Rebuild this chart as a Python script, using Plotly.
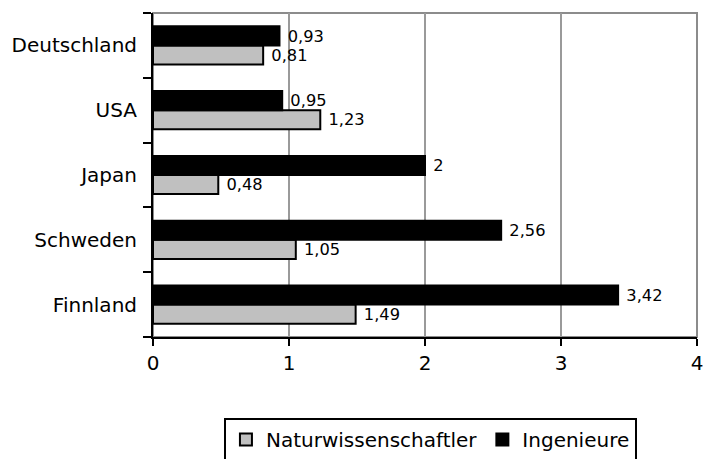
import plotly.graph_objects as go

countries = ["Deutschland", "USA", "Japan", "Schweden", "Finnland"]
naturwiss = [0.81, 1.23, 0.48, 1.05, 1.49]
ingenieure = [0.93, 0.95, 2.00, 2.56, 3.42]
x_ticks = [0, 1, 2, 3, 4]

def fmt(v):
    s = ("%.2f" % v).rstrip("0").rstrip(".")
    return " " + s.replace(".", ",")

FONT = "DejaVu Sans"

fig = go.Figure()
fig.add_trace(go.Bar(
    y=countries, x=naturwiss, orientation="h", name="Naturwissenschaftler",
    marker=dict(color="#c0c0c0", line=dict(color="black", width=2)),
    text=[fmt(v) for v in naturwiss], textposition="outside",
    textfont=dict(family=FONT, size=17, color="black"), cliponaxis=False,
))
fig.add_trace(go.Bar(
    y=countries, x=ingenieure, orientation="h", name="Ingenieure",
    marker=dict(color="black", line=dict(color="black", width=2)),
    text=[fmt(v) for v in ingenieure], textposition="outside",
    textfont=dict(family=FONT, size=17, color="black"), cliponaxis=False,
))

fig.update_layout(
    width=704, height=459,
    margin=dict(l=153, r=7, t=13, b=122, autoexpand=False),
    paper_bgcolor="white", plot_bgcolor="white",
    barmode="group", bargap=0.41, bargroupgap=0.0,
    font=dict(family=FONT, size=20, color="black"),
    showlegend=True,
    legend=dict(
        orientation="h", x=0.51, xanchor="center", y=-0.25, yanchor="top",
        bordercolor="black", borderwidth=2, bgcolor="white",
        font=dict(family=FONT, size=20, color="black"),
        traceorder="normal", itemwidth=30,
    ),
    shapes=[dict(type="rect", xref="paper", yref="paper", x0=0, x1=1, y0=0, y1=1,
                 line=dict(color="#8c8c8c", width=2), layer="below")],
)
fig.update_xaxes(
    range=[0, 4], tickvals=x_ticks, ticktext=[str(t) for t in x_ticks],
    showgrid=True, gridcolor="#9a9a9a", gridwidth=2,
    showline=True, linecolor="black", linewidth=2,
    ticks="outside", ticklen=7, tickwidth=2, tickcolor="black",
    tickfont=dict(family=FONT, size=20), zeroline=False, automargin=False,
)
fig.update_yaxes(
    categoryorder="array", categoryarray=countries[::-1],
    showline=True, linecolor="black", linewidth=2,
    ticks="outside", ticklen=8, tickwidth=2, tickcolor="black",
    tickson="boundaries", showgrid=False, automargin=False,
    tickfont=dict(family=FONT, size=20), ticklabelstandoff=10,
)

fig.write_html(
    "out.html",
    config={"displayModeBar": False},
    post_script="document.body.style.margin='0';document.body.style.overflow='hidden';",
)
